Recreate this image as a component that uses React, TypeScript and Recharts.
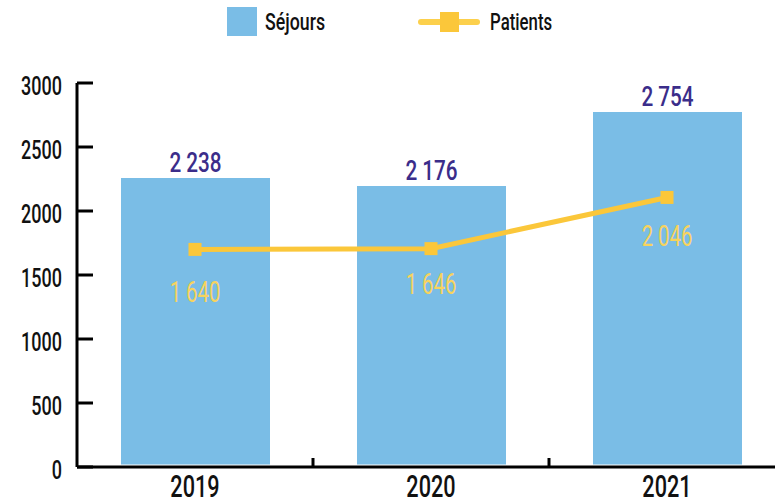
import React from 'react';
import { ComposedChart, Bar, Line, XAxis, YAxis, LabelList } from 'recharts';

const years = ['2019', '2020', '2021'];
const sejours = [2238, 2176, 2754];
const patients = [1640, 1646, 2046];
const yTicks = [0, 500, 1000, 1500, 2000, 2500, 3000];

const data = years.map((y, i) => ({ year: y, sejours: sejours[i], patients: patients[i] }));

const FONT = "Roboto, 'Noto Sans', sans-serif";
const BLUE = '#7abde6';
const GOLD = '#fbc73a';
const GOLD_TEXT = '#f7d35e';
const PURPLE = '#3b2d8a';
const HALF_BAND = 118;
const patientLabelDy = [52.5, 45.5, 48.5];

const fmt = (v: number) => String(v).replace(/\B(?=(\d{3})+(?!\d))/g, ' ');

const NText = ({ x, y, sx, anchor, size, weight, fill, children }: any) => (
  <text
    transform={`translate(${x},${y}) scale(${sx},1)`}
    x={0}
    y={0}
    textAnchor={anchor}
    fontFamily={FONT}
    fontSize={size}
    fontWeight={weight}
    fill={fill}
  >
    {children}
  </text>
);

const YTick = (props: any) => {
  const { x, y, payload } = props;
  return (
    <g>
      <line x1={x} x2={x + 16} y1={y} y2={y} stroke="#000" strokeWidth={3} />
      <NText x={x - 15} y={y + 12} sx={0.72} anchor="end" size={25} weight={500} fill="#111">
        {payload.value}
      </NText>
    </g>
  );
};

const XTick = (props: any) => {
  const { x, y, payload, index } = props;
  return (
    <g>
      {index > 0 && (
        <line x1={x - HALF_BAND} x2={x - HALF_BAND} y1={y - 9} y2={y} stroke="#000" strokeWidth={3} />
      )}
      <NText x={x} y={y + 30} sx={0.7} anchor="middle" size={31} weight={500} fill="#111">
        {payload.value}
      </NText>
    </g>
  );
};

const SquareDot = (props: any) => {
  const { cx, cy } = props;
  return <rect x={cx - 6.5} y={cy - 6.5} width={13} height={13} fill={GOLD} />;
};

const PatientLabel = (props: any) => {
  const { x, y, value, index } = props;
  return (
    <NText x={x} y={y + patientLabelDy[index]} sx={0.7} anchor="middle" size={29} weight={400} fill={GOLD_TEXT}>
      {fmt(value)}
    </NText>
  );
};

const BarLabel = (props: any) => {
  const { x, y, width, value } = props;
  return (
    <NText x={x + width / 2} y={y - 6} sx={0.74} anchor="middle" size={28} weight={500} fill={PURPLE}>
      {fmt(value)}
    </NText>
  );
};

export default function App() {
  return (
    <div style={{ position: 'absolute', left: 0, top: 0, width: 775, height: 504, overflow: 'hidden', background: '#fff' }}>
      <svg width={775} height={45} style={{ position: 'absolute', left: 0, top: 0 }}>
        <rect x={227} y={7} width={30} height={29} fill={BLUE} />
        <NText x={265} y={29.5} sx={0.74} anchor="start" size={24} weight={500} fill="#111">
          Séjours
        </NText>
        <line x1={421} x2={477} y1={22} y2={22} stroke="#fcd04c" strokeWidth={6} strokeLinecap="round" />
        <rect x={440} y={12} width={19} height={20} fill={GOLD} />
        <NText x={490} y={29.5} sx={0.7} anchor="start" size={24} weight={500} fill="#111">
          Patients
        </NText>
      </svg>
      <div style={{ position: 'absolute', left: -1, top: 0 }}>
        <ComposedChart
          width={786}
          height={504}
          data={data}
          margin={{ top: 83, right: 0, bottom: 0, left: 0 }}
        >
          <XAxis
            dataKey="year"
            height={37}
            axisLine={{ stroke: '#000', strokeWidth: 3 }}
            tickLine={false}
            tick={<XTick />}
            tickSize={0}
            tickMargin={0}
            interval={0}
          />
          <YAxis
            yAxisId="axis"
            width={78}
            domain={[0, 3000]}
            ticks={yTicks}
            allowDataOverflow
            axisLine={{ stroke: '#000', strokeWidth: 3 }}
            tickLine={false}
            tickSize={0}
            tickMargin={0}
            tick={<YTick />}
          />
          <YAxis yAxisId="bars" hide domain={[-20, 2980]} allowDataOverflow />
          <YAxis yAxisId="line" hide domain={[-60, 2940]} allowDataOverflow />
          <Bar yAxisId="bars" dataKey="sejours" fill={BLUE} barSize={149} isAnimationActive={false}>
            <LabelList dataKey="sejours" content={<BarLabel />} />
          </Bar>
          <Line
            yAxisId="line"
            dataKey="patients"
            stroke={GOLD}
            strokeWidth={5}
            dot={<SquareDot />}
            activeDot={false}
            isAnimationActive={false}
          >
            <LabelList dataKey="patients" content={<PatientLabel />} />
          </Line>
        </ComposedChart>
      </div>
    </div>
  );
}
